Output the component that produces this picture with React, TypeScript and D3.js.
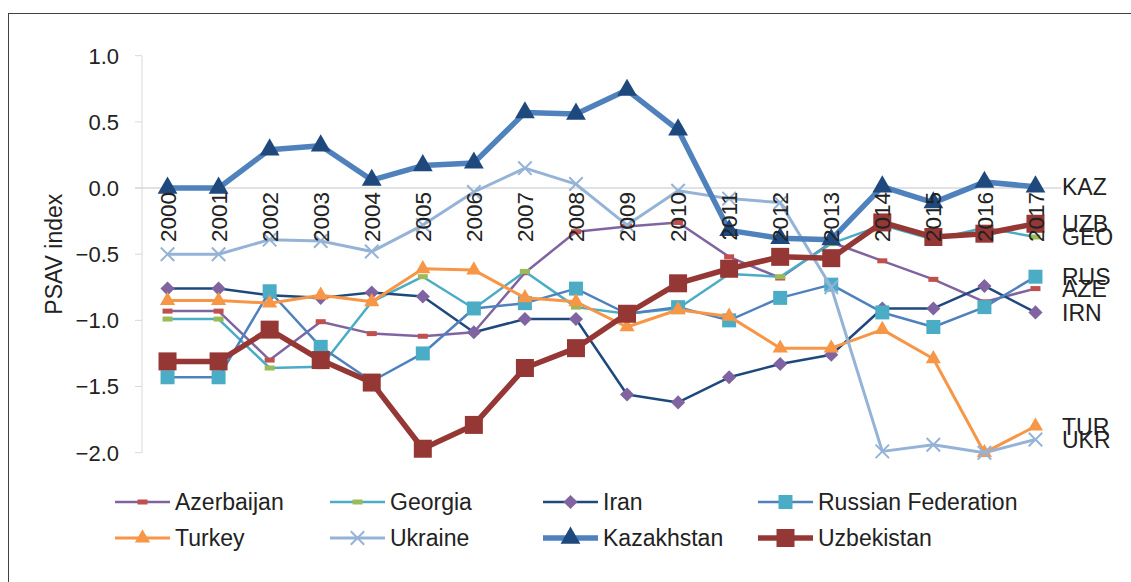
import React from "react";
import * as d3 from "d3";

// years on the category axis
const years = ["2000", "2001", "2002", "2003", "2004", "2005", "2006", "2007", "2008",
  "2009", "2010", "2011", "2012", "2013", "2014", "2015", "2016", "2017"];

// PSAV index per country
const azerbaijan = [-0.93, -0.93, -1.30, -1.01, -1.10, -1.12, -1.09, -0.64, -0.33, -0.29, -0.26, -0.52, -0.68, -0.41, -0.55, -0.69, -0.86, -0.76];
const georgia = [-0.99, -0.99, -1.36, -1.35, -0.86, -0.67, -0.91, -0.63, -0.90, -0.95, -0.91, -0.65, -0.67, -0.42, -0.28, -0.39, -0.30, -0.37];
const iran = [-0.76, -0.76, -0.81, -0.83, -0.79, -0.82, -1.09, -0.99, -0.99, -1.56, -1.62, -1.43, -1.33, -1.26, -0.91, -0.91, -0.74, -0.94];
const russia = [-1.43, -1.43, -0.78, -1.20, -1.46, -1.25, -0.91, -0.87, -0.76, -0.95, -0.90, -1.00, -0.83, -0.73, -0.94, -1.05, -0.90, -0.67];
const turkey = [-0.85, -0.85, -0.87, -0.81, -0.86, -0.61, -0.62, -0.83, -0.86, -1.05, -0.92, -0.97, -1.21, -1.21, -1.07, -1.29, -2.00, -1.80];
const ukraine = [-0.50, -0.50, -0.39, -0.40, -0.48, -0.28, -0.03, 0.15, 0.03, -0.28, -0.02, -0.08, -0.11, -0.75, -1.99, -1.94, -2.00, -1.90];
const kazakhstan = [0.0, 0.0, 0.29, 0.32, 0.06, 0.17, 0.19, 0.57, 0.56, 0.74, 0.44, -0.32, -0.38, -0.39, 0.01, -0.11, 0.045, 0.01];
const uzbekistan = [-1.31, -1.31, -1.07, -1.30, -1.47, -1.97, -1.79, -1.36, -1.21, -0.95, -0.72, -0.61, -0.52, -0.53, -0.26, -0.37, -0.345, -0.27];

const names = ["Azerbaijan", "Georgia", "Iran", "Russian Federation", "Turkey", "Ukraine", "Kazakhstan", "Uzbekistan"];
const codes = ["AZE", "GEO", "IRN", "RUS", "TUR", "UKR", "KAZ", "UZB"];
const values = [azerbaijan, georgia, iran, russia, turkey, ukraine, kazakhstan, uzbekistan];

const styles = [
  { line: "#8064A2", width: 2.5, marker: "dash", fill: "#C0504D", size: 0 },
  { line: "#4BACC6", width: 2.5, marker: "dash", fill: "#9BBB59", size: 0 },
  { line: "#1F497D", width: 2.5, marker: "diamond", fill: "#8064A2", size: 100 },
  { line: "#4F81BD", width: 2.5, marker: "square", fill: "#4BACC6", size: 196 },
  { line: "#F79646", width: 3, marker: "triangle", fill: "#F79646", size: 100 },
  { line: "#95B3D7", width: 3, marker: "x", fill: "#95B3D7", size: 120 },
  { line: "#4F81BD", width: 5.5, marker: "triangle", fill: "#1F497D", size: 170 },
  { line: "#953735", width: 5.5, marker: "square", fill: "#953735", size: 324 },
];

const font = "'Liberation Sans', Arial, sans-serif";
const ink = "#222";

const Marker = ({ x, y, s }) => {
  if (s.marker === "dash")
    return <rect x={x - 5} y={y - 2.5} width={10} height={5} fill={s.fill} />;
  if (s.marker === "x")
    return <path transform={`translate(${x},${y})`} d={d3.symbol(d3.symbolX, s.size)()} fill="none" stroke={s.fill} strokeWidth={2} />;
  const type = s.marker === "triangle" ? d3.symbolTriangle : d3.symbolSquare;
  const rot = s.marker === "diamond" ? 45 : 0;
  return <path transform={`translate(${x},${y}) rotate(${rot})`} d={d3.symbol(type, s.size)()} fill={s.fill} />;
};

export default function App() {
  const width = 1131, height = 582;
  const x = d3.scaleBand().domain(years).range([142, 1061]);
  const cx = (yr) => x(yr) + x.bandwidth() / 2;
  const y = d3.scaleLinear().domain([-2, 1]).range([452.7, 55.7]);
  const fmt = d3.format(".1f");
  const line = d3.line().x((d, i) => cx(years[i])).y((d) => y(d));

  const legendCols = [115, 330, 543, 758];
  const legendRows = [502, 538];

  return (
    <div style={{ position: "absolute", left: 0, top: 0 }}>
      <svg width={width} height={height} style={{ display: "block", fontFamily: font }}>
        <rect x={0} y={0} width={width} height={height} fill="#fff" />
        <rect x={8.5} y={13.5} width={1400} height={800} fill="none" stroke="#404040" strokeWidth={1} />

        {/* y axis */}
        <line x1={142} x2={142} y1={y(1)} y2={y(-2)} stroke="#d9d9d9" strokeWidth={1} />
        {y.ticks(6).map((t) => (
          <g key={t}>
            <line x1={135} x2={142} y1={y(t)} y2={y(t)} stroke="#d9d9d9" />
            <text x={119} y={y(t)} dy="0.36em" textAnchor="end" fontSize={22} fill={ink}>{fmt(t)}</text>
          </g>
        ))}
        <line x1={135} x2={1061} y1={y(0)} y2={y(0)} stroke="#d9d9d9" strokeWidth={1.5} />
        <text transform={`translate(62,${y(-0.5)}) rotate(-90)`} textAnchor="middle" fontSize={23} fill={ink}>PSAV index</text>

        {/* series */}
        {values.map((vals, k) => (
          <g key={names[k]}>
            <path d={line(vals)} fill="none" stroke={styles[k].line} strokeWidth={styles[k].width} strokeLinejoin="round" />
            {vals.map((v, i) => (
              <Marker key={i} x={cx(years[i])} y={y(v)} s={styles[k]} />
            ))}
          </g>
        ))}

        {/* category labels, rotated, hanging below the zero line, drawn over the lines */}
        {years.map((yr) => (
          <text key={yr} transform={`translate(${cx(yr)},${y(0) + 4}) rotate(-90)`} dy="0.36em"
            textAnchor="end" fontSize={22.5} fill={ink}>{yr}</text>
        ))}

        {/* end labels */}
        {values.map((vals, k) => (
          <text key={codes[k]} x={1062} y={y(vals[vals.length - 1])} dy="0.36em" fontSize={23} fill={ink}>{codes[k]}</text>
        ))}

        {/* legend */}
        {names.map((n, k) => {
          const lx = legendCols[k % 4];
          const ly = legendRows[Math.floor(k / 4)];
          const s = styles[k];
          return (
            <g key={n}>
              <line x1={lx} x2={lx + 55} y1={ly} y2={ly} stroke={s.line} strokeWidth={s.width} />
              <Marker x={lx + 27.5} y={ly} s={s} />
              <text x={lx + 60} y={ly} dy="0.36em" fontSize={23} fill={ink}>{n}</text>
            </g>
          );
        })}
      </svg>
    </div>
  );
}
